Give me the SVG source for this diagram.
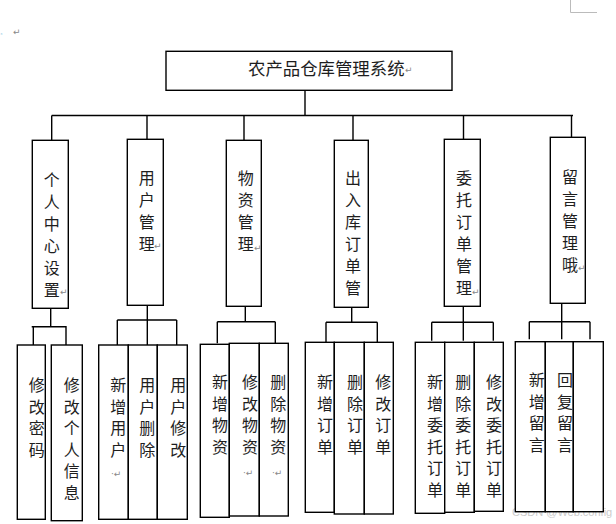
<svg xmlns="http://www.w3.org/2000/svg" width="616" height="524" viewBox="0 0 616 524">
<style>
.b{fill:#fff;stroke:#000;stroke-width:1.4}
.l{fill:none;stroke:#000;stroke-width:1.4}
.t{font-family:"Noto Sans CJK SC","Noto Sans",sans-serif;font-size:17.4px;fill:#1e1e1e;dominant-baseline:central}
.v{font-family:"Noto Sans CJK SC","Noto Sans",sans-serif;font-size:16px;fill:#1e1e1e;writing-mode:vertical-rl;letter-spacing:6px}
.s{letter-spacing:5.6px}
.m{font-family:"DejaVu Sans",sans-serif;font-size:9px;fill:#888;dominant-baseline:central}
</style>
<rect width="616" height="524" fill="#fff"/>
<g id="artifacts">
<path d="M570.5 0V12.5H597" fill="none" stroke="#bbb" stroke-width="1"/>
<text class="m" x="0" y="32" style="font-size:7px;fill:#39c">。</text>
<text class="m" x="13" y="32">↵</text>
<text x="512" y="512" style="font-family:'Liberation Sans',sans-serif;font-size:11px;fill:#ccc;dominant-baseline:central">CSDN @Web.config</text>
</g>
<g id="connectors">
<path class="l" d="M305 90.5V115.5M51.7 115.5H573M51.7 115.5V140M147 115.5V139M244 115.5V140M353 115.5V140M463.5 115.5V139M571.5 115.5V137"/>
<path class="l" d="M50.7 308V326.7M31.7 326.7H66.7M33.3 326.7V345M66 326.7V345"/>
<path class="l" d="M147.3 305V345M117.3 320H176.7M117.3 320V345M176.7 320V345"/>
<path class="l" d="M245.3 306V321.7M217.3 321.7H275.3M217.3 321.7V343.3M275.3 321.7V343.3"/>
<path class="l" d="M351.7 307V322.3M326 322.3H377.3M326 322.3V342.3M377.3 322.3V342.3"/>
<path class="l" d="M463.3 306V340.7M431.7 322.3H493.3M431.7 322.3V340.7M493.3 322.3V340.7"/>
<path class="l" d="M561.7 303V339.3M529.3 321.7H590M529.3 321.7V339.3M590 321.7V339.3"/>
</g>
<g id="root">
<rect class="b" x="166" y="51.3" width="286" height="39"/>
<text class="t" x="248" y="67">农产品仓库管理系统</text>
<text class="m" x="405" y="70">↵</text>
</g>
<g id="n1">
<rect class="b" x="32.3" y="140.3" width="36" height="168"/>
<text class="v" x="51.7" y="172">个人中心设置</text>
<text class="m" x="60" y="292">↵</text>
</g>
<g id="n2">
<rect class="b" x="127.3" y="139.3" width="36" height="166"/>
<text class="v" x="146.7" y="170">用户管理</text>
<text class="m" x="154" y="246">↵</text>
</g>
<g id="n3">
<rect class="b" x="226.3" y="140.3" width="35" height="166"/>
<text class="v" x="245.7" y="170">物资管理</text>
<text class="m" x="254" y="248">↵</text>
</g>
<g id="n4">
<rect class="b" x="334.3" y="140.3" width="34" height="167"/>
<text class="v" x="353" y="170">出入库订单管</text>
</g>
<g id="n5">
<rect class="b" x="444.3" y="139.3" width="36" height="167"/>
<text class="v" x="464" y="170">委托订单管理</text>
<text class="m" x="472" y="292">↵</text>
</g>
<g id="n6">
<rect class="b" x="550.3" y="137.3" width="35" height="166"/>
<text class="v" x="570" y="169">留言管理哦</text>
<text class="m" x="578" y="268">↵</text>
</g>
<g id="n1a">
<rect class="b" x="17.3" y="345" width="28" height="174.3"/>
<text class="v s" x="36.7" y="377">修改密码</text>
</g>
<g id="n1b">
<rect class="b" x="51.3" y="345" width="31" height="175.7"/>
<text class="v s" x="71.7" y="377">修改个人信息</text>
</g>
<g id="n2a">
<rect class="b" x="98.7" y="345" width="29.6" height="174.3"/>
<text class="v s" x="118.3" y="377">新增用户</text>
<text class="m" x="111" y="474">·↵</text>
</g>
<g id="n2b">
<rect class="b" x="128.3" y="345" width="29" height="174.3"/>
<text class="v s" x="147.3" y="377">用户删除</text>
</g>
<g id="n2c">
<rect class="b" x="157.3" y="345" width="30" height="174.3"/>
<text class="v s" x="178.3" y="377">用户修改</text>
</g>
<g id="n3a">
<rect class="b" x="200.3" y="344.3" width="29" height="173"/>
<text class="v s" x="220" y="374">新增物资</text>
</g>
<g id="n3b">
<rect class="b" x="229.3" y="343.3" width="30" height="172.7"/>
<text class="v s" x="250" y="374">修改物资</text>
<text class="m" x="243" y="473">·↵</text>
</g>
<g id="n3c">
<rect class="b" x="259.3" y="343.3" width="29" height="172.7"/>
<text class="v s" x="278.3" y="374">删除物资</text>
<text class="m" x="272" y="473">·↵</text>
</g>
<g id="n4a">
<rect class="b" x="305.3" y="342.3" width="29" height="170"/>
<text class="v s" x="325" y="374">新增订单</text>
</g>
<g id="n4b">
<rect class="b" x="334.3" y="342.3" width="30" height="171.7"/>
<text class="v s" x="355" y="374">删除订单</text>
</g>
<g id="n4c">
<rect class="b" x="364.3" y="342.3" width="29" height="171.7"/>
<text class="v s" x="383.3" y="374">修改订单</text>
</g>
<g id="n5a">
<rect class="b" x="415.3" y="342.3" width="29.4" height="171"/>
<text class="v s" x="435" y="374">新增委托订单</text>
</g>
<g id="n5b">
<rect class="b" x="444.7" y="342.3" width="29.6" height="170"/>
<text class="v s" x="463.3" y="374">删除委托订单</text>
</g>
<g id="n5c">
<rect class="b" x="474.3" y="342.3" width="29" height="169"/>
<text class="v s" x="494" y="374">修改委托订单</text>
</g>
<g id="n6a">
<rect class="b" x="515.3" y="341.7" width="30" height="170"/>
<text class="v s" x="536.7" y="372">新增留言</text>
</g>
<g id="n6b">
<rect class="b" x="545.3" y="341.7" width="28" height="170"/>
<text class="v s" x="565" y="372">回复留言</text>
</g>
<g id="n6c">
<rect class="b" x="573.3" y="341.7" width="30" height="170"/>
</g>
</svg>
